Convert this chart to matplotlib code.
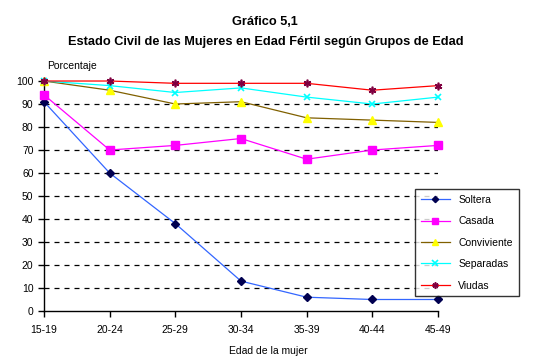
import matplotlib.pyplot as plt

grupos = ["15-19", "20-24", "25-29", "30-34", "35-39", "40-44", "45-49"]
soltera = [91, 60, 38, 13, 6, 5, 5]
casada = [94, 70, 72, 75, 66, 70, 72]
conviviente = [100, 96, 90, 91, 84, 83, 82]
separadas = [100, 98, 95, 97, 93, 90, 93]
viudas = [100, 100, 99, 99, 99, 96, 98]

plt.rcParams['font.family'] = ['Liberation Sans', 'DejaVu Sans']

fig = plt.figure(figsize=(5.35, 3.62), dpi=100)
ax = fig.add_axes([0.0822, 0.1409, 0.7365, 0.6353])

x = list(range(len(grupos)))
ax.plot(x, soltera, color='#3366ff', lw=0.9, marker='D', ms=4,
        mfc='#000050', mec='#000050', label='Soltera', clip_on=False, zorder=5)
ax.plot(x, casada, color='#ff00ff', lw=0.9, marker='s', ms=6,
        mfc='#ff00ff', mec='#ff00ff', label='Casada', clip_on=False, zorder=5)
ax.plot(x, conviviente, color='#806000', lw=0.9, marker='^', ms=5.5,
        mfc='#ffff00', mec='#ffff00', label='Conviviente', clip_on=False, zorder=5)
ax.plot(x, separadas, color='#00ffff', lw=0.9, marker='x', ms=5,
        mfc='#00ffff', mec='#00ffff', mew=1.2, label='Separadas', clip_on=False, zorder=5)
ax.plot(x, viudas, color='#ff0000', lw=0.9, marker=(6, 2, 0), ms=5.5,
        mfc='#800040', mec='#800040', mew=1.2, label='Viudas', clip_on=False, zorder=5)

ax.set_xlim(0, 6)
ax.set_ylim(0, 100)
ax.set_yticks(range(0, 101, 10))
ax.set_xticks(x)
ax.set_xticklabels(grupos)

for v in range(10, 100, 10):
    ax.axhline(v, color='black', lw=0.9, ls=(0, (4, 4)), zorder=1)

for s in ['top', 'right']:
    ax.spines[s].set_visible(False)
for s in ['left', 'bottom']:
    ax.spines[s].set_linewidth(1.0)
ax.tick_params(axis='both', labelsize=7.5, length=4, width=1, direction='out')
ax.tick_params(axis='x', pad=6)

fig.text(0.495, 0.94, "Gráfico 5,1", ha='center', va='center',
         fontsize=9.2, fontweight='bold')
fig.text(0.497, 0.885, "Estado Civil de las Mujeres en Edad Fértil según Grupos de Edad",
         ha='center', va='center', fontsize=9.2, fontweight='bold')
fig.text(0.088, 0.817, "Porcentaje", ha='left', va='center', fontsize=7.5)
fig.text(0.502, 0.030, "Edad de la mujer", ha='center', va='center', fontsize=7.5)

leg = fig.legend(loc='upper left', bbox_to_anchor=(0.776, 0.478), fontsize=7.5,
                 frameon=True, fancybox=False, edgecolor='black',
                 borderpad=0.55, labelspacing=1.1, handlelength=2.8,
                 borderaxespad=0, markerscale=0.8)
leg.get_frame().set_linewidth(1.0)

fig.savefig("out.png", dpi=100)
